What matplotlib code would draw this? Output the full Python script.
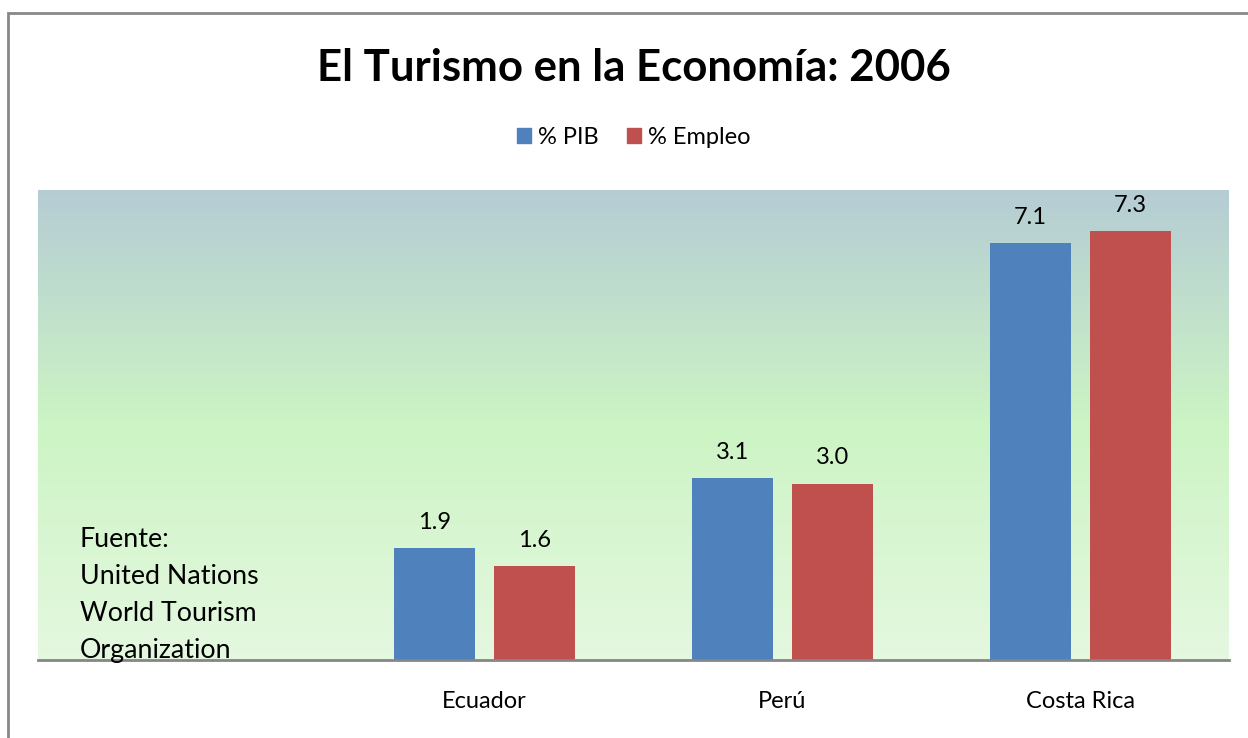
import numpy as np
import matplotlib.pyplot as plt
from matplotlib.colors import LinearSegmentedColormap
from matplotlib.patches import Rectangle, Patch

plt.rcParams['font.family'] = ['Lato', 'DejaVu Sans']

# datos
paises = ['', 'Ecuador', 'Perú', 'Costa Rica']
pib = [np.nan, 1.9, 3.1, 7.1]
empleo = [np.nan, 1.6, 3.0, 7.3]
etiquetas = ['% PIB', '% Empleo']

azul = '#4f81bd'
rojo = '#c0504d'

fig = plt.figure(figsize=(12.48, 7.38), dpi=100)
ax = fig.add_axes([0.0304, 0.1057, 0.9543, 0.6369])

# fondo degradado
cmap = LinearSegmentedColormap.from_list(
    'fondo', [(0.0, '#e5f8e0'), (0.5, '#ccf4c4'), (1.0, '#b5ccd4')])
grad = np.linspace(0, 1, 256).reshape(-1, 1)
ax.imshow(grad, cmap=cmap, aspect='auto', origin='lower',
          extent=[0, 1, 0, 1], transform=ax.transAxes, zorder=0)

x = np.arange(len(paises))
w = 0.272
gap = 0.064
b1 = ax.bar(x - (w + gap) / 2, pib, w, color=azul, zorder=2)
b2 = ax.bar(x + (w + gap) / 2, empleo, w, color=rojo, zorder=2)

for bars, vals in [(b1, pib), (b2, empleo)]:
    for r, v in zip(bars, vals):
        if np.isnan(v):
            continue
        ax.annotate(f'{v:.1f}', (r.get_x() + r.get_width() / 2, v),
                    xytext=(0, 11), textcoords='offset points',
                    ha='center', va='bottom', fontsize=17)

ax.set_xlim(-0.5, len(paises) - 0.5)
ax.set_ylim(0, 8)
ax.set_xticks(x)
ax.set_xticklabels(paises, fontsize=17)
ax.tick_params(axis='x', length=0, pad=22)
ax.set_yticks([])
for s in ['top', 'right', 'left']:
    ax.spines[s].set_visible(False)
ax.spines['bottom'].set_color('#868686')
ax.spines['bottom'].set_linewidth(2)
ax.spines['bottom'].set_zorder(3)

fig.text(0.508, 0.908, 'El Turismo en la Economía: 2006', ha='center',
         va='center', fontsize=31.5, fontweight='bold')

handles = [Patch(color=azul), Patch(color=rojo)]
fig.legend(handles, etiquetas, loc='center', bbox_to_anchor=(0.508, 0.814),
           ncol=2, frameon=False, fontsize=17, handlelength=0.6,
           handleheight=0.6, handletextpad=0.3, columnspacing=1.2)

fig.text(80 / 1248, 0.1944,
         'Fuente:\nUnited Nations\nWorld Tourism\nOrganization',
         ha='left', va='center', fontsize=19.3, linespacing=1.6)

# marco
fig.add_artist(Rectangle((8 / 1248, -0.05), 1.1, 0.9824 + 0.05,
                         transform=fig.transFigure, fill=False,
                         edgecolor='#888888', linewidth=2))

fig.savefig('out.png', dpi=100)
